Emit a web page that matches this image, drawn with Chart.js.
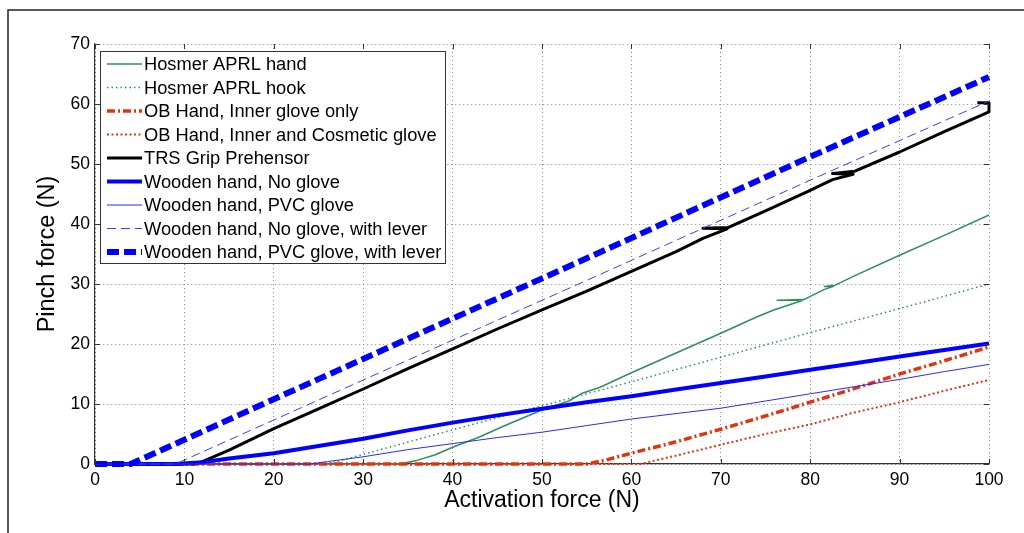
<!DOCTYPE html>
<html>
<head>
<meta charset="utf-8">
<script src="https://cdn.jsdelivr.net/npm/chart.js@4.4.0/dist/chart.umd.min.js"></script>
<style>
  html, body { margin: 0; padding: 0; background: #fff; }
  #wrap { width: 1024px; height: 533px; position: relative; }
</style>
</head>
<body>
<div id="wrap"><canvas id="pinchChart" width="1024" height="533"></canvas></div>
<script>
// series: activation force (x) vs pinch force (y), N
const legendLabels = [
  "Hosmer APRL hand",
  "Hosmer APRL hook",
  "OB Hand, Inner glove only",
  "OB Hand, Inner and Cosmetic glove",
  "TRS Grip Prehensor",
  "Wooden hand, No glove",
  "Wooden hand, PVC glove",
  "Wooden hand, No glove, with lever",
  "Wooden hand, PVC glove, with lever"
];

const hosmerHandX = [0, 34, 36, 38, 40, 43, 46, 50, 53, 54.5, 56.5, 60, 65, 70, 74, 76, 79.2, 76.3, 79.3, 81.6, 82.6, 81.6, 82.8, 85, 90, 95, 100];
const hosmerHandY = [0, 0, 0.6, 1.5, 2.8, 4.5, 6.5, 9, 10.5, 11.8, 12.8, 15.2, 18.5, 21.8, 24.5, 25.7, 27.3, 27.3, 27.4, 29.1, 29.6, 29.6, 29.8, 31.4, 34.8, 38.1, 41.5];

const hosmerHookX = [0, 26, 30, 40, 50, 60, 70, 80, 90, 100];
const hosmerHookY = [0, 0, 1.6, 5.7, 9.7, 13.7, 17.8, 21.9, 25.9, 30];

const obInnerX = [0, 55, 57, 60, 65, 70, 75, 80, 85, 90, 95, 100];
const obInnerY = [0, 0, 0.6, 1.8, 3.7, 5.8, 8, 10.3, 12.6, 15.0, 17.2, 19.5];

const obCosmeticX = [0, 61, 65, 70, 75, 80, 85, 90, 95, 100];
const obCosmeticY = [0, 0, 1.4, 3.2, 5.0, 6.6, 8.6, 10.3, 12.2, 14.0];

const trsX = [0, 11, 12, 15, 20, 25, 30, 35, 40, 45, 50, 55, 60, 65, 68, 70.7, 68, 70.8, 75, 80, 82.5, 84.8, 82.5, 85, 90, 95, 100, 100, 98.7];
const trsY = [0, 0, 0.4, 2.3, 5.9, 9.2, 12.5, 15.9, 19.2, 22.5, 25.7, 28.8, 32.1, 35.4, 37.6, 39.2, 39.3, 39.4, 42.2, 45.6, 47.4, 48.3, 48.4, 48.8, 52.0, 55.4, 58.7, 60.2, 60.2];

const woodNoGloveX = [0, 9, 12, 15, 20, 25, 30, 35, 40, 45, 50, 55, 60, 65, 70, 75, 80, 85, 90, 95, 100];
const woodNoGloveY = [0, 0, 0.3, 0.9, 1.8, 3.0, 4.2, 5.6, 6.9, 8.1, 9.2, 10.3, 11.3, 12.4, 13.5, 14.6, 15.7, 16.8, 17.9, 19.0, 20.1];

const woodPvcX = [0, 24, 26, 30, 35, 40, 45, 50, 55, 60, 65, 70, 75, 80, 85, 90, 95, 100];
const woodPvcY = [0, 0, 0.4, 1.2, 2.4, 3.4, 4.4, 5.3, 6.4, 7.5, 8.4, 9.3, 10.5, 11.7, 12.9, 14.1, 15.4, 16.6];

const leverNoGloveX = [0, 9, 30, 56.5, 80, 100];
const leverNoGloveY = [0, 0, 14, 31.6, 47.3, 60.5];

const leverPvcX = [0, 4, 20, 56.5, 80, 100];
const leverPvcY = [0, 0, 10.8, 35.3, 51.2, 64.5];

const xTicks = [0, 10, 20, 30, 40, 50, 60, 70, 80, 90, 100];
const yTicks = [0, 10, 20, 30, 40, 50, 60, 70];

const GREEN = "#2f8f5b";
const RED = "#e5330d";
const BLUE = "#0000ff";
const FONT = "'Liberation Sans', Arial, sans-serif";

function pts(xs, ys){
  return xs.map((x, i) => ({x: x, y: ys[i]}));
}

// style per series, same order as the legend
const styles = [
  {data: pts(hosmerHandX, hosmerHandY), color: GREEN, width: 1.5, dash: []},
  {data: pts(hosmerHookX, hosmerHookY), color: GREEN, width: 1.5, dash: [1.5, 3]},
  {data: pts(obInnerX, obInnerY), color: RED, width: 3.5, dash: [8, 3, 2, 3]},
  {data: pts(obCosmeticX, obCosmeticY), color: RED, width: 2, dash: [2, 2.5]},
  {data: pts(trsX, trsY), color: "#000000", width: 3, dash: []},
  {data: pts(woodNoGloveX, woodNoGloveY), color: BLUE, width: 4, dash: []},
  {data: pts(woodPvcX, woodPvcY), color: "#2a2aff", width: 1, dash: []},
  {data: pts(leverNoGloveX, leverNoGloveY), color: "#3c3cff", width: 1, dash: [9, 5]},
  {data: pts(leverPvcX, leverPvcY), color: BLUE, width: 6, dash: [12, 5]}
];

const datasets = styles.map((s, i) => ({
  label: legendLabels[i],
  data: s.data,
  borderColor: s.color,
  backgroundColor: s.color,
  borderWidth: s.width,
  borderDash: s.dash,
  borderCapStyle: "butt",
  borderJoinStyle: "round",
  pointRadius: 0,
  tension: 0,
  fill: false,
  clip: false,   // lines lying on y=0 show full width, like the original
  order: -i
}));

// outer figure frame
const framePlugin = {
  id: "frame",
  beforeDraw(chart){
    const ctx = chart.ctx;
    ctx.save();
    ctx.strokeStyle = "#222";
    ctx.lineWidth = 1.5;
    ctx.beginPath();
    ctx.moveTo(8, 533);
    ctx.lineTo(8, 10);
    ctx.lineTo(1024, 10);
    ctx.stroke();
    ctx.restore();
  }
};

// inward ticks on all four sides + boxed legend in the upper left
const overlayPlugin = {
  id: "overlay",
  afterDatasetsDraw(chart){
    const ctx = chart.ctx;
    const a = chart.chartArea;
    const xs = chart.scales.x, ys = chart.scales.y;
    ctx.save();
    ctx.strokeStyle = "#333";
    ctx.lineWidth = 1;
    ctx.setLineDash([]);
    ctx.beginPath();
    xTicks.forEach(v => {
      const px = Math.round(xs.getPixelForValue(v)) + 0.5;
      ctx.moveTo(px, a.bottom); ctx.lineTo(px, a.bottom - 5);
      ctx.moveTo(px, a.top); ctx.lineTo(px, a.top + 5);
    });
    yTicks.forEach(v => {
      const py = Math.round(ys.getPixelForValue(v)) + 0.5;
      ctx.moveTo(a.left, py); ctx.lineTo(a.left + 5, py);
      ctx.moveTo(a.right, py); ctx.lineTo(a.right - 5, py);
    });
    ctx.stroke();

    // legend
    const bx = 100.5, by = 51.5, bw = 345, bh = 212;
    ctx.fillStyle = "#fff";
    ctx.fillRect(bx, by, bw, bh);
    ctx.strokeStyle = "#333";
    ctx.lineWidth = 1;
    ctx.strokeRect(bx, by, bw, bh);
    ctx.font = "18.3px " + FONT;
    ctx.textBaseline = "middle";
    ctx.textAlign = "left";
    styles.forEach((s, i) => {
      const cy = 64 + i * 23.5;
      ctx.save();
      ctx.strokeStyle = s.color;
      ctx.lineWidth = s.width;
      ctx.lineCap = "butt";
      ctx.setLineDash(s.dash);
      ctx.beginPath();
      ctx.moveTo(107, cy);
      ctx.lineTo(142, cy);
      ctx.stroke();
      ctx.restore();
      ctx.fillStyle = "#000";
      ctx.fillText(legendLabels[i], 144, cy + 1);
    });
    ctx.restore();
  }
};

new Chart(document.getElementById("pinchChart"), {
  type: "line",
  data: {datasets: datasets},
  plugins: [framePlugin, overlayPlugin],
  options: {
    responsive: false,
    animation: false,
    devicePixelRatio: 1,
    layout: {padding: {left: 0, right: 35, top: 44, bottom: 0}},
    plugins: {legend: {display: false}, tooltip: {enabled: false}},
    scales: {
      x: {
        type: "linear",
        min: 0, max: 100,
        afterFit(scale){ scale.height = 69; },
        afterBuildTicks(scale){ scale.ticks = xTicks.map(v => ({value: v})); },
        ticks: {color: "#000", font: {family: FONT, size: 17.5}, padding: 6, maxRotation: 0},
        grid: {color: "#8c8c8c", lineWidth: 1, drawTicks: false},
        border: {display: true, color: "#333", width: 1.2, dash: [1, 3]},
        title: {display: true, text: "Activation force (N)", color: "#000",
                font: {family: FONT, size: 23}, padding: {top: 0, bottom: 19}}
      },
      y: {
        type: "linear",
        min: 0, max: 70,
        afterFit(scale){ scale.width = 95; },
        afterBuildTicks(scale){ scale.ticks = yTicks.map(v => ({value: v})); },
        ticks: {color: "#000", font: {family: FONT, size: 17.5}, padding: 5},
        grid: {color: "#8c8c8c", lineWidth: 1, drawTicks: false},
        border: {display: true, color: "#333", width: 1.2, dash: [1, 3]},
        title: {display: true, text: "Pinch force (N)", color: "#000",
                font: {family: FONT, size: 23.5}, padding: {top: 33, bottom: 0}}
      }
    }
  }
});
</script>
</body>
</html>
